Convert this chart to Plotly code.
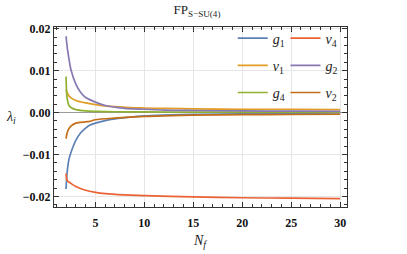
import plotly.graph_objects as go

# ---- data ----
nf_g1 = [2, 2.1, 2.2, 2.3, 2.5, 3, 3.5, 4, 4.4, 5, 6, 7, 8.5, 10, 12, 15, 20, 25, 30]
g1 = [-0.0182, -0.0145, -0.0125, -0.0111, -0.0095, -0.0066, -0.0048, -0.0037, -0.0030,
      -0.0025, -0.0019, -0.0015, -0.0011, -0.0008, -0.0006, -0.0004, -0.0003, -0.0002, -0.0001]

nf_v1 = [2, 2.2, 2.5, 3, 4, 5, 6, 7, 8.5, 10, 12, 15, 20, 25, 30]
v1 = [0.0055, 0.0043, 0.0035, 0.0029, 0.0023, 0.0019, 0.0016, 0.0014, 0.0012,
      0.0011, 0.0010, 0.0009, 0.0008, 0.00075, 0.0007]

nf_g4 = [2, 2.05, 2.1, 2.2, 2.3, 2.5, 3, 4, 5, 7, 10, 15, 20, 30]
g4 = [0.0086, 0.0050, 0.0036, 0.0024, 0.0017, 0.0012, 0.0007, 0.0004, 0.0003,
      0.0002, 0.00015, 0.00012, 0.0001, 0.0001]

nf_v4 = [2, 2.05, 2.15, 2.45, 3, 4, 5, 6, 8, 10, 15, 20, 25, 30]
v4 = [-0.0145, -0.0157, -0.0163, -0.0168, -0.0176, -0.0185, -0.0190, -0.0193,
      -0.0196, -0.0198, -0.0201, -0.0203, -0.0204, -0.0205]

nf_g2 = [2, 2.15, 2.3, 2.5, 3, 3.5, 4, 5, 6, 7, 8, 10, 12, 15, 20, 25, 30]
g2 = [0.0182, 0.0150, 0.0128, 0.0102, 0.0068, 0.0048, 0.0036, 0.0025, 0.0017,
      0.0013, 0.0010, 0.0008, 0.0006, 0.0005, 0.0004, 0.00035, 0.0003]

nf_v2 = [2, 2.1, 2.25, 2.5, 3, 4, 4.4, 5, 7, 8.5, 10, 12, 15, 20, 25, 30]
v2 = [-0.0062, -0.0050, -0.0040, -0.0032, -0.0025, -0.0022, -0.0021, -0.0017,
      -0.0013, -0.0011, -0.0009, -0.0008, -0.0006, -0.0005, -0.00045, -0.0004]

series_names = ["<i>g</i><sub>1</sub>", "<i>v</i><sub>1</sub>", "<i>g</i><sub>4</sub>",
                "<i>v</i><sub>4</sub>", "<i>g</i><sub>2</sub>", "<i>v</i><sub>2</sub>"]
series_x = [nf_g1, nf_v1, nf_g4, nf_v4, nf_g2, nf_v2]
series_y = [g1, v1, g4, v4, g2, v2]
colors = ["#5E81B5", "#E19C24", "#8FB032", "#EB6235", "#8778B3", "#C56E1A"]
legend_of = ["legend", "legend", "legend", "legend2", "legend2", "legend2"]

x_ticks = [5, 10, 15, 20, 25, 30]
y_ticks = [0.02, 0.01, 0.0, -0.01, -0.02]
y_ticktext = ["0.02", "0.01", "0.00", "\u22120.01", "\u22120.02"]

title_text = "FP<sub>S\u2212SU(4)</sub>"
x_label = "<i>N</i><sub><i>f</i></sub>"
y_label = "<i>\u03bb</i><sub><i>i</i></sub>"

SERIF = "Liberation Serif"

fig = go.Figure()
for i in range(len(series_names)):
    fig.add_trace(go.Scatter(
        x=series_x[i], y=series_y[i], mode="lines",
        name=series_names[i],
        line=dict(color=colors[i], width=1.7, shape="spline", smoothing=0.8),
        legend=legend_of[i], legendgroup="g%d" % i,
    ))

axis_common = dict(
    showline=True, linecolor="#333333", linewidth=1, mirror="allticks",
    ticks="inside", ticklen=5, tickcolor="#333333", tickwidth=1,
    showgrid=True, gridcolor="#e6e6e6", gridwidth=1,
    tickfont=dict(family=SERIF, size=12, color="#111111", weight="bold"),
)

fig.update_xaxes(
    range=[0.77, 30.7], tickvals=x_ticks, zeroline=False, ticklabelstandoff=5,
    minor=dict(dtick=1, ticks="inside", ticklen=3, tickcolor="#333333", showgrid=False),
    **axis_common,
)
fig.update_yaxes(
    range=[-0.0225, 0.0204], tickvals=y_ticks, ticktext=y_ticktext,
    zeroline=True, zerolinecolor="#9a9a9a", zerolinewidth=1,
    minor=dict(dtick=0.002, ticks="inside", ticklen=3, tickcolor="#333333", showgrid=False),
    **axis_common,
)

legend_common = dict(
    bgcolor="rgba(0,0,0,0)", itemwidth=30, tracegroupgap=6,
    font=dict(family=SERIF, size=14, color="#222222"),
    xanchor="left", yanchor="top", yref="paper",
)

fig.update_layout(
    width=407, height=254,
    margin=dict(l=54, r=60, t=27, b=47),
    plot_bgcolor="white", paper_bgcolor="white",
    title=dict(text=title_text, x=0.484, xref="container", y=0.962, yref="container",
               xanchor="center", yanchor="middle",
               font=dict(family=SERIF, size=13, color="#222222")),
    legend=dict(x=0.61, y=1.025, **legend_common),
    legend2=dict(x=0.79, y=1.025, **legend_common),
    annotations=[
        dict(text=y_label, xref="paper", yref="paper", x=-0.172, y=0.5,
             xanchor="left", yanchor="middle",
             showarrow=False, font=dict(family=SERIF, size=14, color="#222222")),
        dict(text=x_label, xref="paper", yref="paper", x=0.497, y=-0.19,
             xanchor="center", yanchor="middle",
             showarrow=False, font=dict(family=SERIF, size=14, color="#222222")),
    ],
)

fig.write_html("out.html", post_script="document.body.style.margin='0';",
               config={"displayModeBar": False})
